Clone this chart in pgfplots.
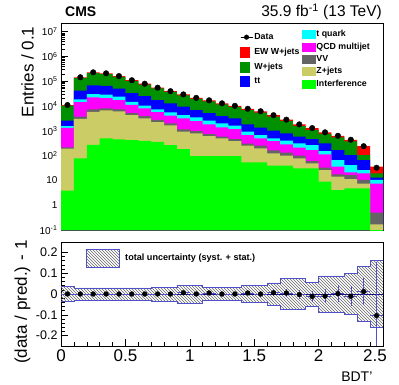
\documentclass[border=0pt]{standalone}
\usepackage{fontspec}
\setmainfont{Liberation Sans}
\usepackage{pgfplots}
\usepackage{pgfplotstable}
\pgfplotsset{compat=1.18}
\usetikzlibrary{patterns}

\definecolor{ewred}{RGB}{255,0,0}
\definecolor{wjets}{RGB}{0,145,0}
\definecolor{ttbar}{RGB}{0,0,255}
\definecolor{tquark}{RGB}{0,255,255}
\definecolor{qcd}{RGB}{255,0,255}
\definecolor{vv}{RGB}{100,100,100}
\definecolor{zjets}{RGB}{204,204,102}
\definecolor{interf}{RGB}{0,255,0}
\definecolor{bandblue}{RGB}{80,80,200}
\definecolor{zeroline}{RGB}{20,20,130}

% cumulative stack tops per bin (lower bin edge), last row closes the interval
\pgfplotstableread{
x    E       W       B      T      Q      V      Z      I
0.0  11000   10500   2570   1550   1320   214    190    3.85
0.1  145000  135000  41700  18600  14500  3720   3020   77.6
0.2  229000  213000  67600  30200  22400  7410   5890   269
0.3  209000  194000  64600  28800  20900  8130   6760   501
0.4  162000  151000  50100  24000  17400  7410   6170   457
0.5  110000  102000  33100  14800  11200  5130   4270   427
0.6  79400   73800   25100  10500  8130   3890   3160   398
0.7  55000   51200   17400  7410   5750   2750   2240   355
0.8  39800   37000   12900  5620   4070   2000   1660   263
0.9  29500   26800   9400   4340   3180   1150   923    185
1.0  21400   19500   6900   3490   2480   982    791    96.4
1.1  17000   15500   5220   2560   1820   743    618    96.4
1.2  12900   11700   3950   2000   1380   581    498    96.4
1.3  10200   9280    3180   1610   1180   468    388    96.4
1.4  7760    6830    1820   923    678    303    252    53.6
1.5  6170    5430    1340   678    498    252    196    53.6
1.6  4270    3760    1010   498    388    163    124    39.3
1.7  2820    2500    791    400    285    131    99.5   39.3
1.8  1820    1550    581    313    209    99.5   77.6   30.7
1.9  1290    1080    468    268    168    60.7   48.8   30.7
2.0  871     747     313    153    112    32.7   26.3   8.89
2.1  631     541     168    66.5   35.8   17.6   14.2   4.10
2.2  437     374     106    41.8   21.2   16.5   11.4   4.79
2.3  240     106     66.5   26.3   19.3   10.4   7.38   4.79
2.4  36      19.4    12.9   10.4   7.38   0.5    0.17   0.01
2.5  36      19.4    12.9   10.4   7.38   0.5    0.17   0.01
}\stack

\begin{document}
\begin{tikzpicture}
\path[use as bounding box] (0pt,0pt) rectangle (399pt,-385pt);

% ---------------- upper panel ----------------
\begin{semilogyaxis}[
  scale only axis, width=322pt, height=207pt,
  at={(61pt,-23pt)}, anchor=north west,
  xmin=0, xmax=2.5, ymin=0.1, ymax=2.24e7,
  log origin y=infty,
  axis line style={black, line width=0.6pt},
  tick align=inside, tick pos=left,
  xtick={0,0.5,1,1.5,2,2.5}, xticklabels={}, minor x tick num=4,
  ytick={0.1,1,10,100,1000,10000,100000,1000000,10000000},
  yticklabels={10\textsuperscript{-1},1,10,10\textsuperscript{2},10\textsuperscript{3},10\textsuperscript{4},10\textsuperscript{5},10\textsuperscript{6},10\textsuperscript{7}},
  yticklabel style={font=\fontsize{10}{10}\selectfont},
  major tick length=7pt, minor tick length=3.5pt,
  every tick/.style={black, line width=0.5pt},
  ylabel={Entries / 0.1},
  ylabel style={font=\fontsize{17}{17}\selectfont, at={(axis description cs:-0.085,1)}, anchor=base east},
  legend style={at={(rel axis cs:0.556,0.958)}, anchor=north west, draw=none, fill=none,
    inner sep=0pt, row sep=4pt, font=\bfseries\fontsize{8.8}{9}\selectfont, nodes={inner sep=1.5pt}},
  legend cell align=left,
]
\addplot[ybar interval, fill=ewred, draw=none, forget plot] table[x=x, y=E] {\stack};
\addplot[ybar interval, fill=wjets, draw=none, forget plot] table[x=x, y=W] {\stack};
\addplot[ybar interval, fill=ttbar, draw=none, forget plot] table[x=x, y=B] {\stack};
\addplot[ybar interval, fill=tquark, draw=none, forget plot] table[x=x, y=T] {\stack};
\addplot[ybar interval, fill=qcd, draw=none, forget plot] table[x=x, y=Q] {\stack};
\addplot[ybar interval, fill=vv, draw=none, forget plot] table[x=x, y=V] {\stack};
\addplot[ybar interval, fill=zjets, draw=none, forget plot] table[x=x, y=Z] {\stack};
\addplot[ybar interval, fill=interf, draw=none, forget plot] table[x=x, y=I] {\stack};
% data
\addplot[only marks, mark=*, mark size=2.8pt, black, forget plot] coordinates {
 (0.05,11000) (0.15,145000) (0.25,229000) (0.35,209000) (0.45,162000)
 (0.55,110000) (0.65,79400) (0.75,55000) (0.85,39800) (0.95,29500)
 (1.05,21400) (1.15,17000) (1.25,12900) (1.35,10200) (1.45,7760)
 (1.55,6170) (1.65,4270) (1.75,2820) (1.85,1820) (1.95,1290)
 (2.05,871) (2.15,631) (2.25,437) (2.35,240) (2.45,32.4)};
\addlegendimage{legend image code/.code={\draw[black, line width=0.6pt] (0pt,0pt) -- (12pt,0pt); \fill[black] (6pt,0pt) circle (2.3pt);}}
\addlegendentry{Data}
\addlegendimage{legend image code/.code={\fill[ewred] (0pt,-5pt) rectangle (9pt,5pt);}}
\addlegendentry{EW W+jets}
\addlegendimage{legend image code/.code={\fill[wjets] (0pt,-5pt) rectangle (9pt,5pt);}}
\addlegendentry{W+jets}
\addlegendimage{legend image code/.code={\fill[ttbar] (0pt,-5pt) rectangle (9pt,5pt);}}
\addlegendentry{tt}
\end{semilogyaxis}

% second legend column
\begin{axis}[
  scale only axis, width=322pt, height=207pt,
  at={(61pt,-23pt)}, anchor=north west, hide axis,
  xmin=0, xmax=1, ymin=0, ymax=1,
  legend style={at={(rel axis cs:0.7475,0.972)}, anchor=north west, draw=none, fill=none,
    inner sep=0pt, row sep=1.6pt, font=\bfseries\fontsize{8.8}{9}\selectfont, nodes={inner sep=1.5pt}},
  legend cell align=left,
]
\addplot[draw=none, forget plot] coordinates {(0.5,0.5)};
\addlegendimage{legend image code/.code={\fill[tquark] (0pt,-4pt) rectangle (12.7pt,4pt);}}
\addlegendentry{t quark}
\addlegendimage{legend image code/.code={\fill[qcd] (0pt,-4pt) rectangle (12.7pt,4pt);}}
\addlegendentry{QCD multijet}
\addlegendimage{legend image code/.code={\fill[vv] (0pt,-4pt) rectangle (12.7pt,4pt);}}
\addlegendentry{VV}
\addlegendimage{legend image code/.code={\fill[zjets] (0pt,-4pt) rectangle (12.7pt,4pt);}}
\addlegendentry{Z+jets}
\addlegendimage{legend image code/.code={\fill[interf] (0pt,-4pt) rectangle (12.7pt,4pt);}}
\addlegendentry{Interference}
\end{axis}

% ---------------- ratio panel ----------------
\begin{axis}[
  scale only axis, width=322pt, height=104pt,
  at={(61pt,-242pt)}, anchor=north west,
  xmin=0, xmax=2.5, ymin=-0.25, ymax=0.25,
  axis line style={black, line width=0.6pt},
  tick align=inside, tick pos=left,
  xtick={0,0.5,1,1.5,2,2.5}, xticklabels={0,0.5,1,1.5,2,\hspace*{-16pt}2.5}, minor x tick num=4,
  ytick={-0.2,-0.1,0,0.1,0.2}, yticklabels={-0.2,-0.1,0,0.1,0.2}, minor y tick num=4,
  xticklabel style={font=\fontsize{17}{17}\selectfont},
  yticklabel style={font=\fontsize{12.5}{12.5}\selectfont},
  major tick length=7pt, minor tick length=3.5pt,
  every tick/.style={black, line width=0.5pt},
  xlabel={BDT'},
  xlabel style={font=\fontsize{14}{14}\selectfont, at={(axis description cs:0.978,-0.34)}, anchor=base east},
  ylabel={(data / pred.) - 1},
  ylabel style={font=\fontsize{17}{17}\selectfont, at={(axis description cs:-0.106,1.05)}, anchor=base east},
  legend style={at={(rel axis cs:0.0776,0.933)}, anchor=north west, draw=none, fill=none,
    inner sep=0pt, font=\bfseries\fontsize{9.1}{9.5}\selectfont, nodes={inner sep=1.5pt}},
  legend cell align=left,
]
% total uncertainty band: upper edge left to right, lower edge right to left
\addplot[const plot, draw=none, pattern=north west lines, pattern color=black!60, forget plot] coordinates {
 (0,0.037) (0.1,0.029) (0.2,0.029) (0.3,0.029) (0.4,0.029) (0.5,0.029) (0.6,0.029)
 (0.7,0.033) (0.8,0.033) (0.9,0.043) (1.0,0.043) (1.1,0.032) (1.2,0.032) (1.3,0.032)
 (1.4,0.040) (1.5,0.040) (1.6,0.053) (1.7,0.073) (1.8,0.073) (1.9,0.057) (2.0,0.087)
 (2.1,0.087) (2.2,0.099) (2.3,0.131) (2.4,0.160) (2.5,0.160)
 (2.5,-0.160) (2.4,-0.131) (2.3,-0.099) (2.2,-0.087) (2.1,-0.087) (2.0,-0.057)
 (1.9,-0.073) (1.8,-0.073) (1.7,-0.053) (1.6,-0.040) (1.5,-0.040) (1.4,-0.032)
 (1.3,-0.032) (1.2,-0.032) (1.1,-0.043) (1.0,-0.043) (0.9,-0.033) (0.8,-0.033)
 (0.7,-0.029) (0.6,-0.029) (0.5,-0.029) (0.4,-0.029) (0.3,-0.029) (0.2,-0.029)
 (0.1,-0.037) (0,-0.037)};
\addplot[const plot, draw=bandblue, line width=0.7pt, forget plot] coordinates {
 (0,0.037) (0.1,0.029) (0.2,0.029) (0.3,0.029) (0.4,0.029) (0.5,0.029) (0.6,0.029)
 (0.7,0.033) (0.8,0.033) (0.9,0.043) (1.0,0.043) (1.1,0.032) (1.2,0.032) (1.3,0.032)
 (1.4,0.040) (1.5,0.040) (1.6,0.053) (1.7,0.073) (1.8,0.073) (1.9,0.057) (2.0,0.087)
 (2.1,0.087) (2.2,0.099) (2.3,0.131) (2.4,0.160) (2.5,0.160)};
\addplot[const plot, draw=bandblue, line width=0.7pt, forget plot] coordinates {
 (0,-0.037) (0.1,-0.029) (0.2,-0.029) (0.3,-0.029) (0.4,-0.029) (0.5,-0.029) (0.6,-0.029)
 (0.7,-0.033) (0.8,-0.033) (0.9,-0.043) (1.0,-0.043) (1.1,-0.032) (1.2,-0.032) (1.3,-0.032)
 (1.4,-0.040) (1.5,-0.040) (1.6,-0.053) (1.7,-0.073) (1.8,-0.073) (1.9,-0.057) (2.0,-0.087)
 (2.1,-0.087) (2.2,-0.099) (2.3,-0.131) (2.4,-0.160) (2.5,-0.160)};
\addplot[zeroline, line width=0.8pt, forget plot] coordinates {(0,0) (2.5,0)};
\addplot[only marks, mark=*, mark size=2.4pt, black, forget plot,
  error bars/.cd, y dir=both, y explicit, x dir=both, x explicit,
  error bar style={bandblue, line width=0.6pt}, error mark=none] coordinates {
 (0.05,0) +- (0.05,0.004) (0.15,0) +- (0.05,0.002) (0.25,0) +- (0.05,0.002)
 (0.35,0) +- (0.05,0.002) (0.45,0) +- (0.05,0.003) (0.55,0) +- (0.05,0.003)
 (0.65,0) +- (0.05,0.004) (0.75,0) +- (0.05,0.004) (0.85,0) +- (0.05,0.005)
 (0.95,0.006) +- (0.05,0.006) (1.05,0) +- (0.05,0.007) (1.15,0.005) +- (0.05,0.008)
 (1.25,0) +- (0.05,0.009) (1.35,0) +- (0.05,0.010) (1.45,0.005) +- (0.05,0.011)
 (1.55,0) +- (0.05,0.013) (1.65,0.006) +- (0.05,0.016) (1.75,0.005) +- (0.05,0.019)
 (1.85,-0.003) +- (0.05,0.023) (1.95,-0.012) +- (0.05,0.028) (2.05,-0.010) +- (0.05,0.034)
 (2.15,0.002) +- (0.05,0.040) (2.25,-0.011) +- (0.05,0.048) (2.35,0.012) +- (0.05,0.065)
 (2.45,-0.104) +- (0.05,0.260)};
\addlegendimage{legend image code/.code={\draw[bandblue, line width=0.7pt, pattern=north west lines, pattern color=black!60] (0pt,-8.8pt) rectangle (33pt,8.8pt); \path (37pt,0pt);}}
\addlegendentry{total uncertainty (syst. + stat.)}
\end{axis}

\node[anchor=base west, inner sep=0pt, font=\bfseries\fontsize{14}{14}\selectfont] at (65pt,-17pt) {CMS};
\node[anchor=base east, inner sep=0pt, font=\fontsize{15.5}{15.5}\selectfont] at (382pt,-17pt) {35.9 fb\textsuperscript{-1} (13 TeV)};
\end{tikzpicture}
\end{document}
